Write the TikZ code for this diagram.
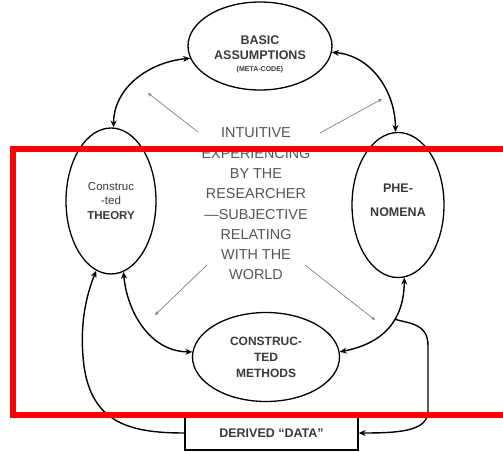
\documentclass[tikz,border=0pt]{standalone}
\usepackage{fontspec}
\setmainfont{Liberation Sans}
\usetikzlibrary{shapes.geometric,arrows.meta}
\definecolor{ink}{HTML}{3A3A3A}
\definecolor{soft}{HTML}{555555}
\definecolor{frame}{HTML}{FF0000}

\begin{document}
\begin{tikzpicture}[x=1pt,y=1pt,
  oval/.style={ellipse, draw=black, line width=1.3pt, inner sep=0pt},
  lbl/.style={text=ink, align=center, font=\bfseries\fontsize{12.5}{15}\selectfont},
  link/.style={line width=1.4pt, {Stealth[length=7pt,width=6pt]}-{Stealth[length=7pt,width=6pt]}},
  feed/.style={line width=1.4pt, -{Stealth[length=7pt,width=6pt]}},
  hint/.style={draw=gray, line width=0.7pt, -{Stealth[length=4pt,width=3.5pt]}}]
\useasboundingbox (0,0) rectangle (503,451);
\clip (0,0) rectangle (503,451);
\fill[white] (0,0) rectangle (503,451);

% the four ovals of the cycle
\node[oval, minimum width=144pt, minimum height=88pt] (basic) at (260,405) {};
\node[lbl] (basictxt) at (260,397) {BASIC\\ASSUMPTIONS\\[-3pt]{\fontsize{7}{8}\selectfont (META-CODE)}};
\node[oval, minimum width=90pt, minimum height=146pt, lbl,
      font=\fontsize{11.5}{14.5}\selectfont] (theory) at (111,250)
      {Construc\\-ted\\\textbf{THEORY}};
\node[oval, minimum width=92pt, minimum height=145pt] (phen) at (398,246) {};
\node[lbl] (phentxt) at (398,251) {PHE-\\[9pt]NOMENA};
\node[oval, minimum width=147pt, minimum height=89pt, lbl,
      font=\bfseries\fontsize{12}{16}\selectfont] (methods) at (266,94)
      {CONSTRUC-\\TED\\METHODS};

% derived data box
\node[draw=black, line width=1.3pt, minimum width=173pt, minimum height=34pt,
      inner sep=0pt, lbl] (data) at (271.5,18) {DERIVED “DATA”};

% central text
\node[text=soft, align=center, font=\fontsize{14.4}{20.3}\selectfont] (centre) at (256,247)
  {INTUITIVE\\EXPERIENCING\\BY THE\\RESEARCHER\\—SUBJECTIVE\\RELATING\\WITH THE\\WORLD};

% two-way links around the cycle
\draw[link] (basic.190) to[out=185,in=90] (theory.88);
\draw[link] (basic.-5) to[out=-5,in=90] (phen.92);
\draw[link] (theory.280) to[out=-85,in=180] (methods.176);
\draw[link] (phen.275) .. controls (404,132) and (385,108) .. coordinate[pos=0.4] (split) (methods.4);

% data flow: phenomena -> data -> theory
\draw[feed] (split) .. controls (410,127) and (428,128) .. (428,105)
            -- (428,40) .. controls (428,20) and (400,18) .. (data.east);
\draw[feed] (data.west) .. controls (130,18) and (92,28) .. (84,85)
            .. controls (79,125) and (86,155) .. (theory.258);

% thin pointers out of the central text
\coordinate (g1s) at (198,319); \coordinate (g1e) at (148,358);
\coordinate (g2s) at (320,318); \coordinate (g2e) at (382,352);
\coordinate (g3s) at (207,186); \coordinate (g3e) at (155,136);
\coordinate (g4s) at (305,186); \coordinate (g4e) at (375,131);
\draw[hint] (g1s) -- (g1e);
\draw[hint] (g2s) -- (g2e);
\draw[hint] (g3s) -- (g3e);
\draw[hint] (g4s) -- (g4e);

% red highlight frame
\draw[frame, line width=5.5pt] (510,302) -- (13,302) -- (13,36) -- (510,36);
\end{tikzpicture}
\end{document}
